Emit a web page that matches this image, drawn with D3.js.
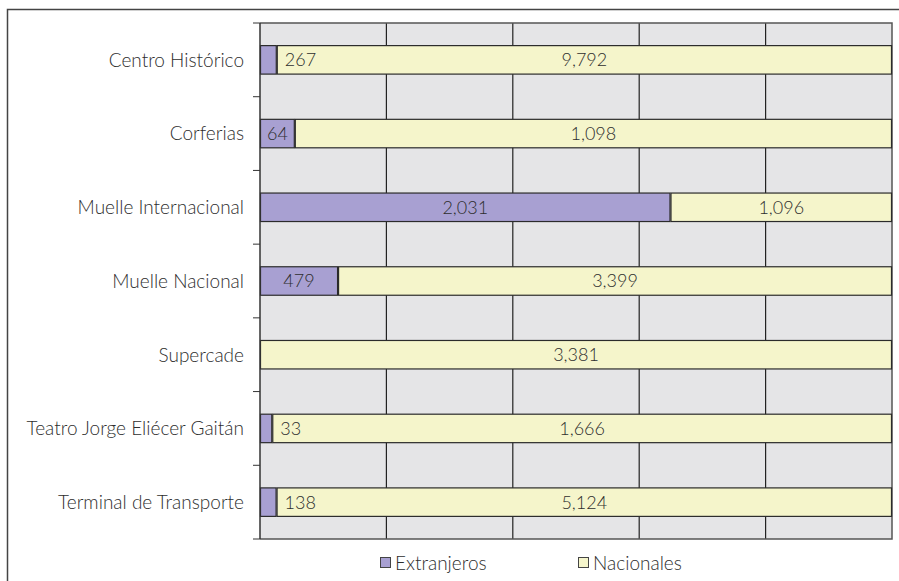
<!DOCTYPE html>
<html>
<head>
<meta charset="utf-8">
<script src="https://cdn.jsdelivr.net/npm/d3@7"></script>
<style>
  body { margin: 0; background: #fff; }
  svg text { font-family: Lato, "Open Sans", sans-serif; font-weight: 300; fill: #2e2e2e; }
</style>
</head>
<body>
<div id="chart"></div>
<script>
const categories = ["Centro Histórico", "Corferias", "Muelle Internacional", "Muelle Nacional", "Supercade", "Teatro Jorge Eliécer Gaitán", "Terminal de Transporte"];
const extranjeros = [267, 64, 2031, 479, 0, 33, 138];
const nacionales = [9792, 1098, 1096, 3399, 3381, 1666, 5124];
const seriesNames = ["Extranjeros", "Nacionales"];
const xTicks = [0, 0.2, 0.4, 0.6, 0.8, 1];

const W = 899, H = 581;
const margin = { top: 23, right: 7, bottom: 42, left: 260 };
const width = W - margin.left - margin.right,
    height = H - margin.top - margin.bottom;
const colors = { Extranjeros: "#a8a0d2", Nacionales: "#f5f5cb" };

const rows = categories.map((c, i) => ({
    cat: c, Extranjeros: extranjeros[i], Nacionales: nacionales[i]
}));

const svg = d3.select("#chart").append("svg")
    .attr("width", W).attr("height", H);

// outer frame
svg.append("path")
    .attr("d", `M7.5,${H} V9.5 H${W}`)
    .attr("fill", "none").attr("stroke", "#444").attr("stroke-width", 1.5);

const g = svg.append("g").attr("transform", `translate(${margin.left}, ${margin.top})`);

const x = d3.scaleLinear().domain([0, 1]).range([0, width]);
const y = d3.scaleBand().domain(categories).range([0, height]).paddingInner(0.6).paddingOuter(0.3);
const band = d3.scaleBand().domain(categories).range([0, height]);

// plot background
g.append("rect")
    .attr("x", 0).attr("y", 0).attr("width", width).attr("height", height)
    .attr("fill", "#e5e5e7");

// vertical gridlines
g.selectAll(".grid").data(xTicks.slice(1, -1)).enter().append("line")
    .attr("x1", d => x(d)).attr("x2", d => x(d))
    .attr("y1", 0).attr("y2", height)
    .attr("stroke", "#222").attr("stroke-width", 1.2);

// plot right / bottom edge
g.append("path")
    .attr("d", `M0,0 H${width} V${height} H0`)
    .attr("fill", "none").attr("stroke", "#555").attr("stroke-width", 1.5);

// stacked 100% bars
const stack = d3.stack().keys(seriesNames).offset(d3.stackOffsetExpand);
const series = stack(rows);

const layer = g.selectAll(".layer").data(series).enter().append("g")
    .attr("fill", d => colors[d.key]);

layer.selectAll("rect").data(d => d.map(p => ({ key: d.key, p }))).enter().append("rect")
    .filter(d => d.p[1] - d.p[0] > 0)
    .attr("x", d => x(d.p[0]) + 0.5)
    .attr("y", d => y(d.p.data.cat) + 0.5)
    .attr("width", d => x(d.p[1]) - x(d.p[0]) - 1)
    .attr("height", y.bandwidth() - 1)
    .attr("stroke", "#2b2b2b").attr("stroke-width", 1.2);

// value labels
series.forEach(s => {
    s.forEach(p => {
        const v = p.data[s.key];
        if (!v) return;
        const x0 = x(p[0]), x1 = x(p[1]);
        const narrow = x1 - x0 < 30;
        g.append("text")
            .attr("x", narrow ? x1 + 8 : (x0 + x1) / 2)
            .attr("y", y(p.data.cat) + y.bandwidth() / 2)
            .attr("dy", "0.36em")
            .attr("text-anchor", narrow ? "start" : "middle")
            .style("font-size", "18px")
            .text(d3.format(",")(v));
    });
});

// left axis
const yAxis = g.append("g");
yAxis.append("line")
    .attr("x1", 0).attr("x2", 0).attr("y1", 0).attr("y2", height)
    .attr("stroke", "#333").attr("stroke-width", 1.5);
yAxis.selectAll(".tick").data(categories.map((c, i) => band.step() * i).concat([height])).enter().append("line")
    .attr("x1", -7).attr("x2", 0)
    .attr("y1", d => d).attr("y2", d => d)
    .attr("stroke", "#333").attr("stroke-width", 1);
yAxis.selectAll(".lbl").data(categories).enter().append("text")
    .attr("x", -16)
    .attr("y", d => y(d) + y.bandwidth() / 2)
    .attr("dy", "0.36em")
    .attr("text-anchor", "end")
    .style("font-size", "19px")
    .text(d => d);

// legend
const legend = svg.append("g").attr("transform", `translate(380, 563)`);
const lx = d3.scalePoint().domain(seriesNames).range([0, 198]);
const li = legend.selectAll("g").data(seriesNames).enter().append("g")
    .attr("transform", d => `translate(${lx(d)}, 0)`);
li.append("rect")
    .attr("x", 0.5).attr("y", -5.5).attr("width", 10).attr("height", 10)
    .attr("fill", d => colors[d]).attr("stroke", "#444").attr("stroke-width", 1);
li.append("text")
    .attr("x", 15).attr("y", 0).attr("dy", "0.36em")
    .style("font-size", "19px")
    .text(d => d);
</script>
</body>
</html>
